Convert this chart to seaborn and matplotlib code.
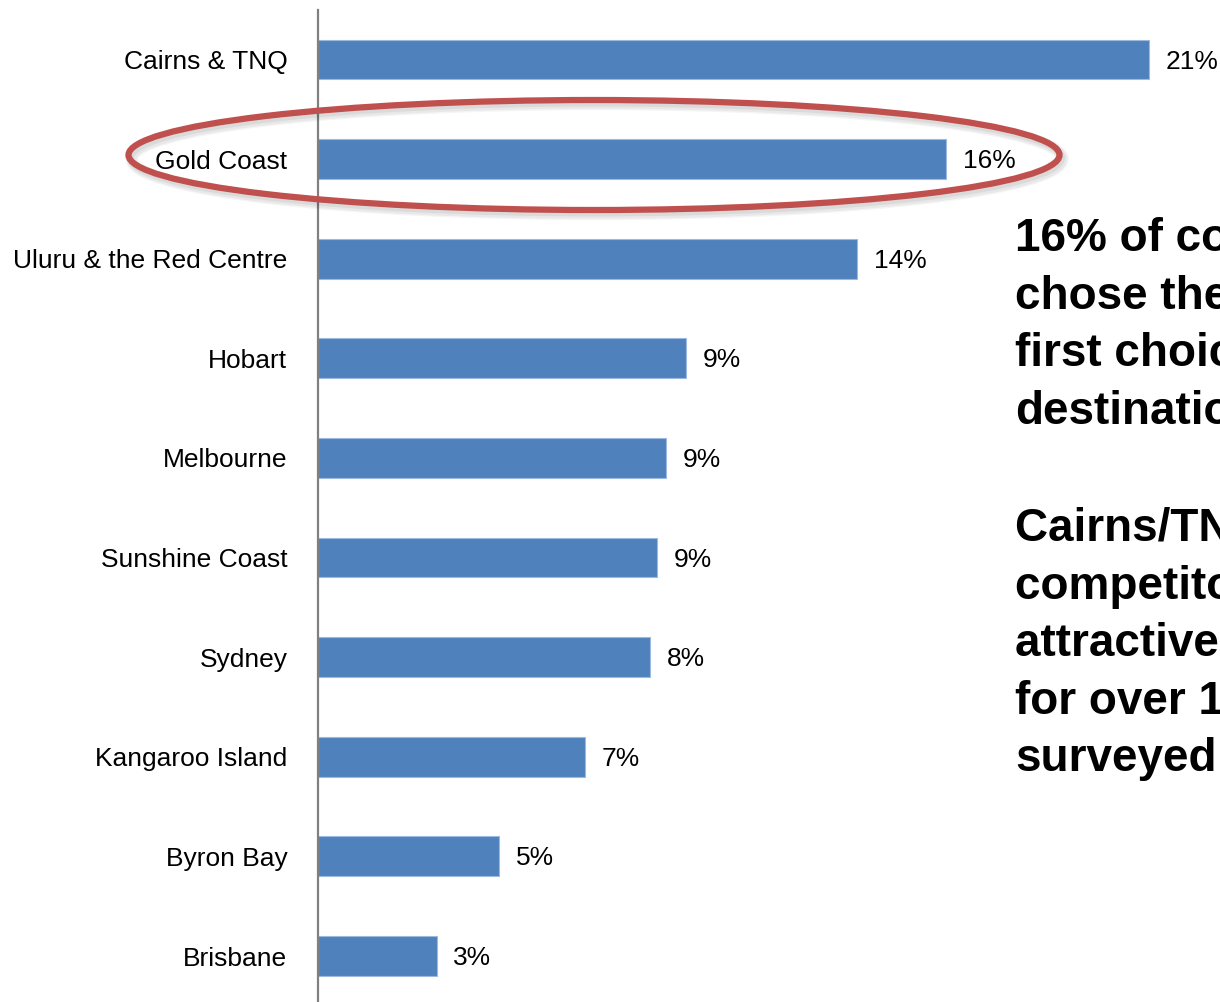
import matplotlib
matplotlib.use("Agg")
import matplotlib.pyplot as plt
from matplotlib.patches import Ellipse
import seaborn as sns
import pandas as pd

# First-choice destination share (%)
destinations = ["Cairns & TNQ", "Gold Coast", "Uluru & the Red Centre", "Hobart",
                "Melbourne", "Sunshine Coast", "Sydney", "Kangaroo Island",
                "Byron Bay", "Brisbane"]
shares = [20.98, 15.86, 13.61, 9.29, 8.79, 8.56, 8.38, 6.74, 4.57, 3.0]

callout_top = "16% of consumers\nchose the Gold Coast\nfirst choice\ndestination"
callout_bottom = "Cairns/TNQ is a strong\ncompetitor, being the most\nattractive destination\nfor over 1 in 5 of those\nsurveyed"

df = pd.DataFrame({"destination": destinations, "share": shares})

sns.set_theme(style="white")
plt.rcParams["font.family"] = ["Liberation Sans", "DejaVu Sans"]

W, H = 1220, 1002
fig = plt.figure(figsize=(W / 100, H / 100), dpi=100)
ax = fig.add_axes([318 / W, -0.0038, 22 * 39.6 / W, 0.9941])

sns.barplot(data=df, x="share", y="destination", orient="h", ax=ax,
            color="#4F81BD", width=0.4, edgecolor="#9DB9E0", linewidth=0.8,
            saturation=1)

ax.set_xlim(0, 22)
ax.set_ylim(9.5, -0.5)
ax.set_xlabel("")
ax.set_ylabel("")
ax.set_xticks([])
ax.tick_params(axis="y", length=0, pad=22, labelsize=19, labelcolor="black")
for side in ("top", "right", "bottom"):
    ax.spines[side].set_visible(False)
ax.spines["left"].set_color("#808080")
ax.spines["left"].set_linewidth(1.6)

for i, v in enumerate(shares):
    ax.text(v + 0.42, i + 0.02, f"{v:.0f}%", va="center", ha="left",
            fontsize=19, color="black")

# Highlight ring around the Gold Coast row (figure pixel coordinates)
cx, cy, ew, eh = 594, 155, 931, 110
for dx, dy, lw, a in [(3, 4, 9, 0.04), (3, 4, 7, 0.05), (2, 3, 5, 0.06)]:
    fig.add_artist(Ellipse(((cx + dx) / W, 1 - (cy + dy) / H), ew / W, eh / H,
                           transform=fig.transFigure, fill=False,
                           edgecolor="#000000", alpha=a, linewidth=lw, zorder=4))
ring = Ellipse((cx / W, 1 - cy / H), ew / W, eh / H,
               transform=fig.transFigure, fill=False, edgecolor="#C0504D",
               linewidth=4.5, zorder=5)
fig.add_artist(ring)

fig.text(1015 / W, 1 - 217 / H, callout_top, ha="left", va="top",
         fontsize=33, fontweight="bold", color="black", linespacing=1.40)
fig.text(1015 / W, 1 - 507 / H, callout_bottom, ha="left", va="top",
         fontsize=33, fontweight="bold", color="black", linespacing=1.40)

fig.savefig("out.png", dpi=100)
